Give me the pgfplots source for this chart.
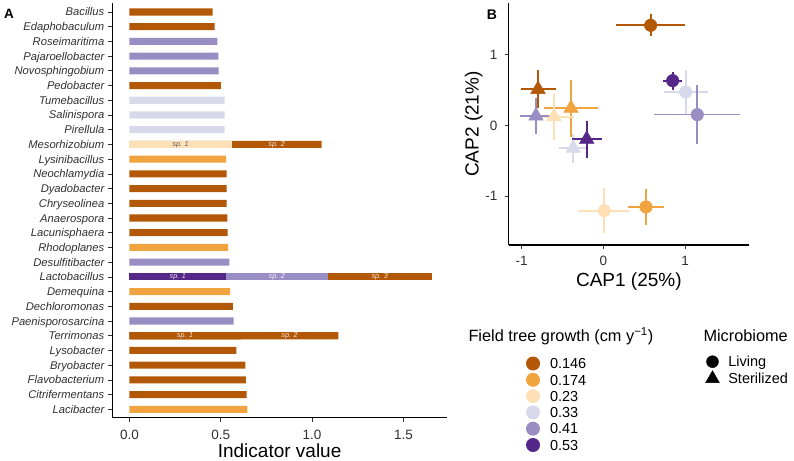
\documentclass[border=0pt]{standalone}
\usepackage{pgfplots}
\pgfplotsset{compat=1.18}
\usepackage{pgfplotstable}
\usepackage{fontspec}
\setmainfont{Liberation Sans}

% PuOr palette, one colour per field tree growth class
\definecolor{g146}{HTML}{B35806}
\definecolor{g174}{HTML}{F1A340}
\definecolor{g23}{HTML}{FEE0B6}
\definecolor{g33}{HTML}{D8DAEB}
\definecolor{g41}{HTML}{998EC3}
\definecolor{g53}{HTML}{542788}
\definecolor{ticktext}{HTML}{303030}

\newcommand{\fs}[1]{\fontsize{#1bp}{#1bp}\selectfont}

% CAP scores (mean and standard error), rows in growth order 0.146 ... 0.53
\pgfplotstableread{
x y ex ey
0.579 1.412 0.418 0.156
0.522 -1.154 0.216 0.254
0.012 -1.206 0.305 0.313
1.007 0.470 0.270 0.310
1.149 0.150 0.526 0.416
0.848 0.630 0.118 0.125
}\living
\pgfplotstableread{
x y ex ey
-0.798 0.508 0.214 0.270
-0.395 0.240 0.326 0.400
-0.603 0.121 0.245 0.323
-0.367 -0.325 0.177 0.205
-0.823 0.131 0.198 0.259
-0.203 -0.198 0.183 0.259
}\sterilized

% error bars of one row of a score table
\newcommand{\caperr}[3]{%
  \addplot[only marks, mark=none, forget plot,
    restrict expr to domain={\coordindex}{#2:#2},
    error bars/.cd, x dir=both, x explicit, y dir=both, y explicit,
    error mark=none, error bar style={draw=#3, line width=1.7bp, solid}]
    table[x=x, y=y, x error=ex, y error=ey] {#1};}
% marker of one row of a score table
\newcommand{\capmark}[5]{%
  \addplot[only marks, mark=#4, mark size=#5, draw=#3, fill=#3, forget plot,
    restrict expr to domain={\coordindex}{#2:#2}]
    table[x=x, y=y] {#1};}

\pgfplotsset{
  indbar/.style={xbar, bar width=0.48, bar shift=0pt, draw=none, fill=#1, forget plot},
  panel/.style={
    scale only axis, anchor=south west, clip=false,
    axis x line*=bottom, axis y line*=left,
    axis line style={-, line width=1.5bp, black},
    tick align=outside, major tick length=4bp,
    tick style={line width=0.7bp, black!80},
    xlabel style={font=\fs{19}, at={(axis description cs:0.5,0)}, anchor=base, yshift=-40bp},
  },
  keylegend/.style={hide axis, scale only axis, width=1bp, height=1bp,
    anchor=north west, xmin=0, xmax=1, ymin=0, ymax=1,
    legend cell align=left,
    legend style={at={(0,1)}, anchor=north west, draw=none, fill=none,
      inner sep=0pt, outer sep=0pt, font=\fs{14.5},
      nodes={inner sep=0pt, text height=10.4bp, text depth=0bp}}},
}

\begin{document}
\begin{tikzpicture}
\path[use as bounding box] (0bp,0bp) rectangle (794bp,461bp);

% ---------------- A: indicator genera ----------------
\begin{axis}[panel,
  at={(112.5bp,43.3bp)}, width=334.2bp, height=414.7bp,
  xmin=-0.0925, xmax=1.737, ymin=0.429, ymax=28.611,
  xtick={0,0.5,1,1.5}, xticklabels={0.0,0.5,1.0,1.5},
  ytick={1,...,28},
  yticklabels={Lacibacter, Citrifermentans, Flavobacterium, Bryobacter, Lysobacter,
    Terrimonas, Paenisporosarcina, Dechloromonas, Demequina, Lactobacillus,
    Desulfitibacter, Rhodoplanes, Lacunisphaera, Anaerospora, Chryseolinea,
    Dyadobacter, Neochlamydia, Lysinibacillus, Mesorhizobium, Pirellula,
    Salinispora, Tumebacillus, Pedobacter, Novosphingobium, Pajaroellobacter,
    Roseimaritima, Edaphobaculum, Bacillus},
  xticklabel style={font=\fs{13.5}, text=ticktext, anchor=north, inner sep=0pt,
    text height=9.7bp, text depth=0bp, yshift=-8bp},
  yticklabel style={font=\fs{11.2}\itshape, text=ticktext, anchor=east, inner sep=0pt,
    text height=8bp, text depth=0bp, xshift=-4bp},
  xlabel={Indicator value},
]
% genera with several indicator species: cumulative ends, drawn longest first
\addplot[indbar=g146] coordinates {(1.654,10)};           % Lactobacillus sp. 1-3
\addplot[indbar=g41]  coordinates {(1.085,10)};           % Lactobacillus sp. 1-2
\addplot[indbar=g146] coordinates {(1.052,19) (1.144,6)}; % Mesorhizobium, Terrimonas sp. 1-2
% single species and first species
\addplot[indbar=g146] coordinates {
  (0.456,28) (0.467,27) (0.501,23) (0.532,17) (0.532,16) (0.532,15)
  (0.536,14) (0.538,13) (0.567,8) (0.610,6) (0.585,5) (0.635,4)
  (0.637,3) (0.642,2)};
\addplot[indbar=g174] coordinates {(0.529,18) (0.540,12) (0.551,9) (0.646,1)};
\addplot[indbar=g23]  coordinates {(0.560,19)};
\addplot[indbar=g33]  coordinates {(0.521,22) (0.521,21) (0.521,20)};
\addplot[indbar=g41]  coordinates {(0.481,26) (0.487,25) (0.489,24) (0.547,11) (0.571,7)};
\addplot[indbar=g53]  coordinates {(0.529,10)};
% species labels inside the stacked bars
\begin{scope}[every node/.style={font=\fs{7.2}\itshape, inner sep=0pt}]
\node[text=black!65] at (axis cs:0.280,19) {sp. 1};
\node[text=white!85!g146] at (axis cs:0.806,19) {sp. 2};
\node[text=white!85!g53] at (axis cs:0.265,10) {sp. 1};
\node[text=white!85!g41] at (axis cs:0.807,10) {sp. 2};
\node[text=white!85!g146] at (axis cs:1.370,10) {sp. 3};
\node[text=white!85!g146] at (axis cs:0.305,6) {sp. 1};
\node[text=white!85!g146] at (axis cs:0.877,6) {sp. 2};
\end{scope}
\end{axis}

% ---------------- B: CAP ordination ----------------
\begin{axis}[panel,
  at={(508.5bp,216bp)}, width=240.8bp, height=242bp,
  xmin=-1.159, xmax=1.785, ymin=-1.691, ymax=1.727,
  xtick={-1,0,1}, xticklabels={-1,0,1},
  ytick={-1,0,1}, yticklabels={-1,0,1},
  xticklabel style={font=\fs{13.5}, text=ticktext, anchor=north, inner sep=0pt,
    text height=9.7bp, text depth=0bp, yshift=-7bp},
  yticklabel style={font=\fs{13.5}, text=ticktext, anchor=east, inner sep=0pt,
    text height=9.7bp, text depth=0bp, xshift=-7bp},
  xlabel={CAP1 (25\%)}, ylabel={CAP2 (21\%)},
  xlabel style={yshift=-1.6bp},
  ylabel style={font=\fs{19}, at={(axis description cs:0,0.5)}, anchor=base, yshift=30bp},
]
\caperr{\living}{0}{g146}     \caperr{\living}{1}{g174}
\caperr{\living}{2}{g23}      \caperr{\living}{3}{g33}
\caperr{\living}{4}{g41}      \caperr{\living}{5}{g53}
\caperr{\sterilized}{0}{g146} \caperr{\sterilized}{1}{g174}
\caperr{\sterilized}{2}{g23}  \caperr{\sterilized}{3}{g33}
\caperr{\sterilized}{4}{g41}  \caperr{\sterilized}{5}{g53}
\capmark{\living}{0}{g146}{*}{6.3bp}     \capmark{\living}{1}{g174}{*}{6.3bp}
\capmark{\living}{2}{g23}{*}{6.3bp}      \capmark{\living}{3}{g33}{*}{6.3bp}
\capmark{\living}{4}{g41}{*}{6.3bp}      \capmark{\living}{5}{g53}{*}{6.3bp}
\capmark{\sterilized}{0}{g146}{triangle*}{8.5bp}
\capmark{\sterilized}{1}{g174}{triangle*}{8.5bp}
\capmark{\sterilized}{2}{g23}{triangle*}{8.5bp}
\capmark{\sterilized}{3}{g33}{triangle*}{8.5bp}
\capmark{\sterilized}{4}{g41}{triangle*}{8.5bp}
\capmark{\sterilized}{5}{g53}{triangle*}{8.5bp}
\end{axis}

% ---------------- legends ----------------
\node[anchor=base west, font=\fs{16.3}, inner sep=0pt] at (468.3bp,119.3bp)
  {Field tree growth (cm y\textsuperscript{−1})};
\node[anchor=base west, font=\fs{16.3}, inner sep=0pt] at (703.3bp,119.3bp) {Microbiome};

\begin{axis}[keylegend, at={(526bp,104.5bp)},
  legend style={row sep=2.3bp, column sep=10bp}]
\addlegendimage{legend image code/.code={\fill[g146, draw=none] (0bp,0bp) circle[radius=7bp];}}
\addlegendentry{0.146}
\addlegendimage{legend image code/.code={\fill[g174, draw=none] (0bp,0bp) circle[radius=7bp];}}
\addlegendentry{0.174}
\addlegendimage{legend image code/.code={\fill[g23, draw=none] (0bp,0bp) circle[radius=7bp];}}
\addlegendentry{0.23}
\addlegendimage{legend image code/.code={\fill[g33, draw=none] (0bp,0bp) circle[radius=7bp];}}
\addlegendentry{0.33}
\addlegendimage{legend image code/.code={\fill[g41, draw=none] (0bp,0bp) circle[radius=7bp];}}
\addlegendentry{0.41}
\addlegendimage{legend image code/.code={\fill[g53, draw=none] (0bp,0bp) circle[radius=7bp];}}
\addlegendentry{0.53}
\end{axis}

\begin{axis}[keylegend, at={(705.5bp,106.3bp)},
  legend style={row sep=2bp, column sep=8.8bp}]
\addlegendimage{legend image code/.code={\path[draw=none, fill=none] (-7bp,-7bp) rectangle (7bp,7bp);
  \draw[black, fill=black] plot[mark=*, mark size=6bp, only marks] coordinates {(0bp,0bp)};}}
\addlegendentry{Living}
\addlegendimage{legend image code/.code={\path[draw=none, fill=none] (-7bp,-7bp) rectangle (7bp,7bp);
  \draw[black, fill=black] plot[mark=triangle*, mark size=8bp, only marks] coordinates {(0bp,0bp)};}}
\addlegendentry{Sterilized}
\end{axis}

% panel letters
\node[anchor=base west, font=\fs{13.5}\bfseries, inner sep=0pt] at (4bp,442.7bp) {A};
\node[anchor=base west, font=\fs{14}\bfseries, inner sep=0pt] at (486.7bp,441.7bp) {B};
\end{tikzpicture}
\end{document}
